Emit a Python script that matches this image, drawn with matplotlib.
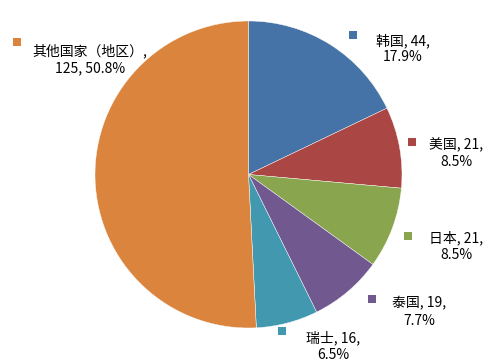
import matplotlib
matplotlib.use("Agg")
import matplotlib.pyplot as plt

plt.rcParams['font.family'] = ['Noto Sans CJK SC', 'DejaVu Sans']

# data, clockwise from 12 o'clock
names  = ["韩国", "美国", "日本", "泰国", "瑞士", "其他国家（地区）"]
values = [44, 21, 21, 19, 16, 125]
colors = ["#4572A7", "#AA4643", "#89A54E", "#71588F", "#4198AF", "#DB843D"]

total = sum(values)
pcts = [v * 100.0 / total for v in values]

W, H = 499, 364
fig = plt.figure(figsize=(W / 100, H / 100), dpi=100)
ax = fig.add_axes([0, 0, 1, 1])

# pie in pixel-like coordinates (y up)
cx, cy, r = 248.5, H - 174.5, 153.5
ax.pie(values, colors=colors, startangle=90, counterclock=False,
       center=(cx, cy), radius=r,
       wedgeprops=dict(edgecolor="white", linewidth=0.3))
ax.set_xlim(0, W)
ax.set_ylim(0, H)
ax.set_aspect("equal")
ax.axis("off")

# label layout: marker (x, y), text center x, line1 y, line2 y  (pixels from top)
layout = [
    ((353, 35), 403, 41, 57),
    ((412, 142), 456, 145, 162),
    ((408, 236), 456, 238, 255),
    ((372, 299), 419, 303, 321),
    ((282, 331), 333, 338, 355),
    ((17, 42), 90, 51, 68),
]

for name, v, p, c, (mk, tx, y1, y2) in zip(names, values, pcts, colors, layout):
    ax.scatter([mk[0]], [H - mk[1]], marker="s", s=30, color=c, linewidths=0)
    if name == "其他国家（地区）":
        line1 = f"{name},"
        line2 = f"{v}, {p:.1f}%"
    else:
        line1 = f"{name}, {v},"
        line2 = f"{p:.1f}%"
    ax.text(tx, H - y1, line1, ha="center", va="center", fontsize=10, color="black")
    ax.text(tx, H - y2, line2, ha="center", va="center", fontsize=10, color="black")

fig.savefig("out.png", dpi=100, facecolor="white")
